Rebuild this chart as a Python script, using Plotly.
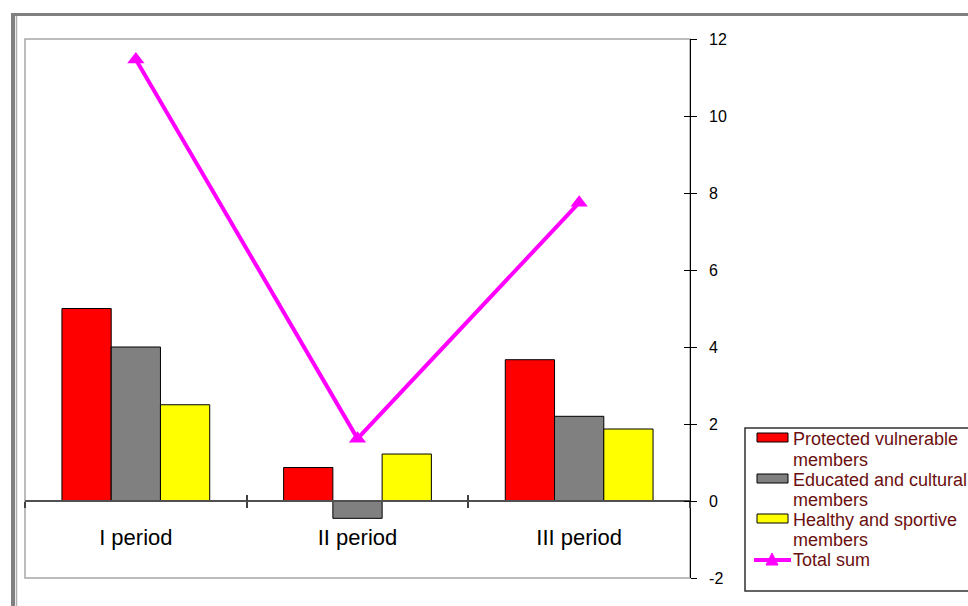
import plotly.graph_objects as go

categories = ["I period", "II period", "III period"]
protected = [5.0, 0.87, 3.67]
educated = [4.0, -0.45, 2.2]
healthy = [2.5, 1.22, 1.87]
total = [11.47, 1.62, 7.75]

series_names = ["Protected vulnerable members", "Educated and cultural members",
                "Healthy and sportive members", "Total sum"]
legend_lines = [["Protected vulnerable", "members"], ["Educated and cultural", "members"],
                ["Healthy and sportive", "members"], ["Total sum"]]
y_ticks = list(range(-2, 13, 2))
y_ticktext = ["\u00a0\u00a0" + str(v) for v in y_ticks]

W, H = 968, 606
L, R, T, B = 25, 690, 39, 578
pw, ph = R - L, B - T


def px_x(v):
    return (v - L) / pw


def px_y(v):
    return (B - v) / ph


fig = go.Figure()
colors = ["#ff0000", "#808080", "#ffff00"]
for name, vals, c in zip(series_names[:3], [protected, educated, healthy], colors):
    fig.add_trace(go.Bar(x=categories, y=vals, name=name, marker_color=c,
                         marker_line_color="#000000", marker_line_width=1, showlegend=False))
fig.add_trace(go.Scatter(x=categories, y=total, name=series_names[3], mode="lines+markers",
                         line=dict(color="#ff00ff", width=4), showlegend=False,
                         marker=dict(symbol="triangle-up", size=15, color="#ff00ff")))
# helper trace for overlay axes (crossing tick marks)
fig.add_trace(go.Scatter(x=[], y=[], xaxis="x2", yaxis="y2", showlegend=False, hoverinfo="skip"))

zero_pos = (0 - (-2)) / 14

shapes = [
    dict(type="rect", xref="paper", yref="paper", x0=0, x1=1, y0=0, y1=1,
         line=dict(color="#a6a6a6", width=1.5), layer="below"),
    dict(type="line", xref="paper", yref="paper", x0=px_x(11), x1=px_x(1000),
         y0=px_y(14.5), y1=px_y(14.5), line=dict(color="#808080", width=3)),
    dict(type="line", xref="paper", yref="paper", x0=px_x(13), x1=px_x(13),
         y0=px_y(13), y1=px_y(620), line=dict(color="#808080", width=4)),
    dict(type="line", xref="paper", yref="paper", x0=px_x(16.5), x1=px_x(16.5),
         y0=px_y(16), y1=px_y(620), line=dict(color="#b0b0b0", width=1.5)),
    # legend box
    dict(type="rect", xref="paper", yref="paper", x0=px_x(745), x1=px_x(1010),
         y0=px_y(428), y1=px_y(591), line=dict(color="#303030", width=1.5), fillcolor="white"),
]
annotations = []
swatch_y = [437.5, 478.5, 518.5]
for c, yc in zip(colors, swatch_y):
    shapes.append(dict(type="rect", xref="paper", yref="paper", x0=px_x(757), x1=px_x(788),
                       y0=px_y(yc - 4.5), y1=px_y(yc + 4.5),
                       line=dict(color="#000000", width=1), fillcolor=c))
shapes.append(dict(type="line", xref="paper", yref="paper", x0=px_x(754), x1=px_x(791),
                   y0=px_y(560), y1=px_y(560), line=dict(color="#ff00ff", width=4)))
shapes.append(dict(type="path", xref="paper", yref="paper",
                   path=f"M {px_x(766)} {px_y(565)} L {px_x(778)} {px_y(565)} L {px_x(772)} {px_y(553)} Z",
                   line=dict(color="#ff00ff", width=1), fillcolor="#ff00ff"))

line_y = [438, 459, 479, 499, 519, 539, 559]
flat = [t for item in legend_lines for t in item]
for txt, yc in zip(flat, line_y):
    annotations.append(dict(text=txt, xref="paper", yref="paper", x=px_x(791), y=px_y(yc + 1),
                            xanchor="left", yanchor="middle", showarrow=False,
                            font=dict(size=18, color="#6b0f0f")))

fig.update_layout(
    width=W, height=H,
    margin=dict(l=L, r=W - R, t=T, b=H - B, autoexpand=False),
    paper_bgcolor="white", plot_bgcolor="white",
    barmode="group", bargap=1/3, bargroupgap=0,
    showlegend=False,
    font=dict(family="Liberation Sans, Arial, sans-serif", color="#000000"),
    xaxis=dict(type="category", categoryorder="array", categoryarray=categories,
               range=[-0.5, 2.5], anchor="free", position=zero_pos,
               showline=True, linecolor="#505050", linewidth=1.5,
               ticks="outside", tickson="boundaries", ticklen=6, tickcolor="#404040", tickwidth=1.5,
               tickfont=dict(size=22, color="#000000"), ticklabelstandoff=17,
               showgrid=False, zeroline=False),
    xaxis2=dict(type="category", categoryorder="array", categoryarray=categories,
                range=[-0.5, 2.5], overlaying="x", anchor="free", position=zero_pos,
                ticks="inside", tickson="boundaries", ticklen=6, tickcolor="#404040", tickwidth=1.5,
                showticklabels=False, showline=False, showgrid=False, zeroline=False),
    yaxis=dict(range=[-2, 12], tickvals=y_ticks, ticktext=y_ticktext, side="right",
               anchor="free", position=1,
               showline=True, linecolor="#000000", linewidth=1,
               ticks="outside", ticklen=6, tickcolor="#000000",
               tickfont=dict(size=16, color="#000000"),
               showgrid=False, zeroline=False),
    yaxis2=dict(range=[-2, 12], tickvals=y_ticks, side="right", overlaying="y",
                anchor="free", position=1,
                ticks="inside", ticklen=6, tickcolor="#000000",
                showticklabels=False, showline=False, showgrid=False, zeroline=False),
    shapes=shapes,
    annotations=annotations,
)

fig.write_html("out.html", config={"displayModeBar": False},
               post_script="document.body.style.margin='0';")
